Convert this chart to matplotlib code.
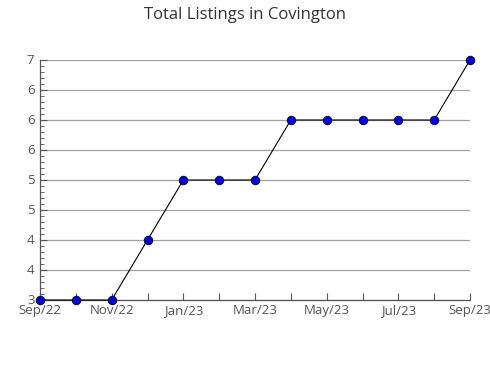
import matplotlib
matplotlib.use("Agg")
import matplotlib.pyplot as plt
from matplotlib.ticker import MultipleLocator

months = ["Sep/22", "Oct/22", "Nov/22", "Dec/22", "Jan/23", "Feb/23", "Mar/23",
          "Apr/23", "May/23", "Jun/23", "Jul/23", "Aug/23", "Sep/23"]
listings = [3, 3, 3, 4, 5, 5, 5, 6, 6, 6, 6, 6, 7]
y_ticks = [3, 3.5, 4, 4.5, 5, 5.5, 6, 6.5, 7]
y_tick_labels = ["3", "4", "4", "5", "5", "6", "6", "6", "7"]
x_tick_labels = [m if i % 2 == 0 else "" for i, m in enumerate(months)]

plt.rcParams['font.family'] = ['Open Sans', 'DejaVu Sans']

fig = plt.figure(figsize=(4.9, 3.8), dpi=100)
ax = fig.add_axes([40/490, 80/380, 430/490, 240/380])

x = list(range(len(months)))
ax.plot(x, listings, color="black", lw=0.8, marker="o", markersize=6,
        markerfacecolor="#0000ee", markeredgecolor="#111122", markeredgewidth=0.8,
        zorder=3, clip_on=False)

ax.set_xlim(0, len(months) - 1)
ax.set_ylim(3, 7)
ax.set_yticks(y_ticks)
ax.set_yticklabels(y_tick_labels)
ax.yaxis.set_minor_locator(MultipleLocator(0.1))
ax.set_xticks(x)
ax.set_xticklabels(x_tick_labels)

ax.grid(axis="y", color="#a0a0a0", lw=0.9)
ax.set_axisbelow(True)
for s in ["top", "right"]:
    ax.spines[s].set_visible(False)
for s in ["left", "bottom"]:
    ax.spines[s].set_color("#555555")
    ax.spines[s].set_linewidth(0.9)

ax.tick_params(axis="both", which="major", direction="in", length=5, width=0.8,
               color="#555555", labelsize=9.5, labelcolor="#555555")
ax.tick_params(axis="y", which="major", pad=4)
ax.tick_params(axis="x", which="major", pad=3)
ax.tick_params(axis="y", which="minor", direction="in", length=3, width=0.6, color="#555555")
for lbl in ax.get_yticklabels():
    lbl.set_verticalalignment("center")

fig.text(0.5, 1 - 15/380, "Total Listings in Covington", ha="center", va="center",
         fontsize=12, color="#333333")

fig.savefig("out.png", dpi=100)
